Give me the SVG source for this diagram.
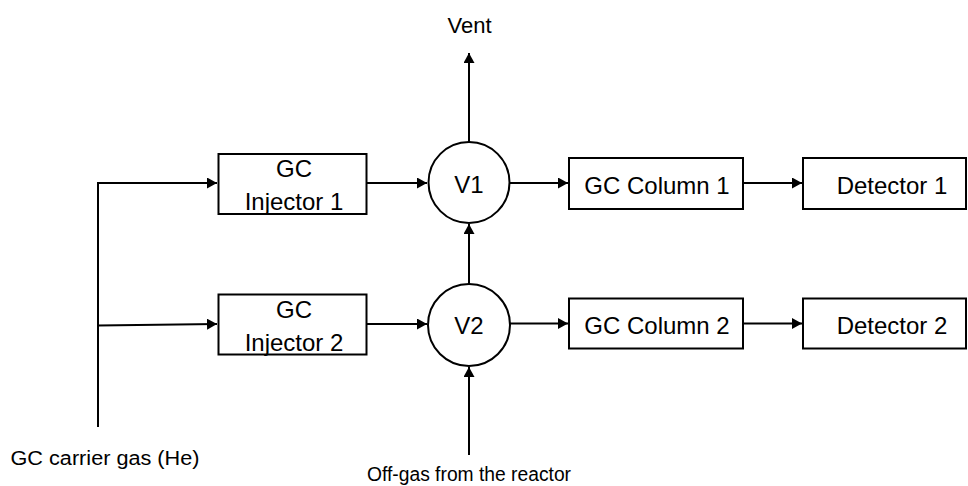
<svg xmlns="http://www.w3.org/2000/svg" width="968" height="486" viewBox="0 0 968 486">
<style>
.box{fill:#fff;stroke:#000;stroke-width:2}
.t{font-family:"Liberation Sans",Arial,sans-serif;font-size:24px;fill:#000;text-anchor:middle}
.s{font-family:"Liberation Sans",Arial,sans-serif;font-size:20px;fill:#000;text-anchor:middle}
.c{fill:none;stroke:#000;stroke-width:2}
</style>
<defs>
<marker id="ah" markerUnits="userSpaceOnUse" markerWidth="10" markerHeight="11" refX="10" refY="5.5" orient="auto">
<path d="M0,0 L10,5.5 L0,11 z" fill="#000"/>
</marker>
</defs>
<rect width="968" height="486" fill="#fff"/>
<g id="connectors">
<path class="c" d="M98,427 V183 H217" marker-end="url(#ah)"/>
<path class="c" d="M98,325.5 L217,324" marker-end="url(#ah)"/>
<path class="c" d="M367,183 H427" marker-end="url(#ah)"/>
<path class="c" d="M510,183 H568" marker-end="url(#ah)"/>
<path class="c" d="M743,183 H802" marker-end="url(#ah)"/>
<path class="c" d="M367,324 H427" marker-end="url(#ah)"/>
<path class="c" d="M510,323.5 H568" marker-end="url(#ah)"/>
<path class="c" d="M743,323.5 H802" marker-end="url(#ah)"/>
<path class="c" d="M469,142 V53" marker-end="url(#ah)"/>
<path class="c" d="M469,284 V224" marker-end="url(#ah)"/>
<path class="c" d="M469,455 V367" marker-end="url(#ah)"/>
</g>
<g id="injector1">
<rect class="box" x="218.5" y="154" width="148" height="60"/>
<text class="t" x="294" y="176.5">GC</text>
<text class="t" x="294" y="210">Injector 1</text>
</g>
<g id="injector2">
<rect class="box" x="218.5" y="294.5" width="148" height="60"/>
<text class="t" x="294" y="317.5">GC</text>
<text class="t" x="294" y="351">Injector 2</text>
</g>
<g id="v1">
<circle class="box" cx="469" cy="182.5" r="40.5"/>
<text class="t" x="469" y="192.5">V1</text>
</g>
<g id="v2">
<circle class="box" cx="469" cy="325" r="41"/>
<text class="t" x="469" y="334">V2</text>
</g>
<g id="column1">
<rect class="box" x="569" y="158" width="174" height="51"/>
<text class="t" x="657" y="193.5">GC Column 1</text>
</g>
<g id="column2">
<rect class="box" x="569" y="298.5" width="174" height="50"/>
<text class="t" x="657" y="333.5">GC Column 2</text>
</g>
<g id="detector1">
<rect class="box" x="803" y="158" width="163" height="51"/>
<text class="t" x="892" y="193.5">Detector 1</text>
</g>
<g id="detector2">
<rect class="box" x="803" y="298.5" width="163" height="50"/>
<text class="t" x="892" y="333.5">Detector 2</text>
</g>
<g id="labels">
<text class="s" x="469.5" y="33" style="font-size:22px">Vent</text>
<text class="s" x="105" y="465" textLength="189" lengthAdjust="spacingAndGlyphs">GC carrier gas (He)</text>
<text class="s" x="469" y="481" textLength="204" lengthAdjust="spacingAndGlyphs">Off-gas from the reactor</text>
</g>
</svg>
